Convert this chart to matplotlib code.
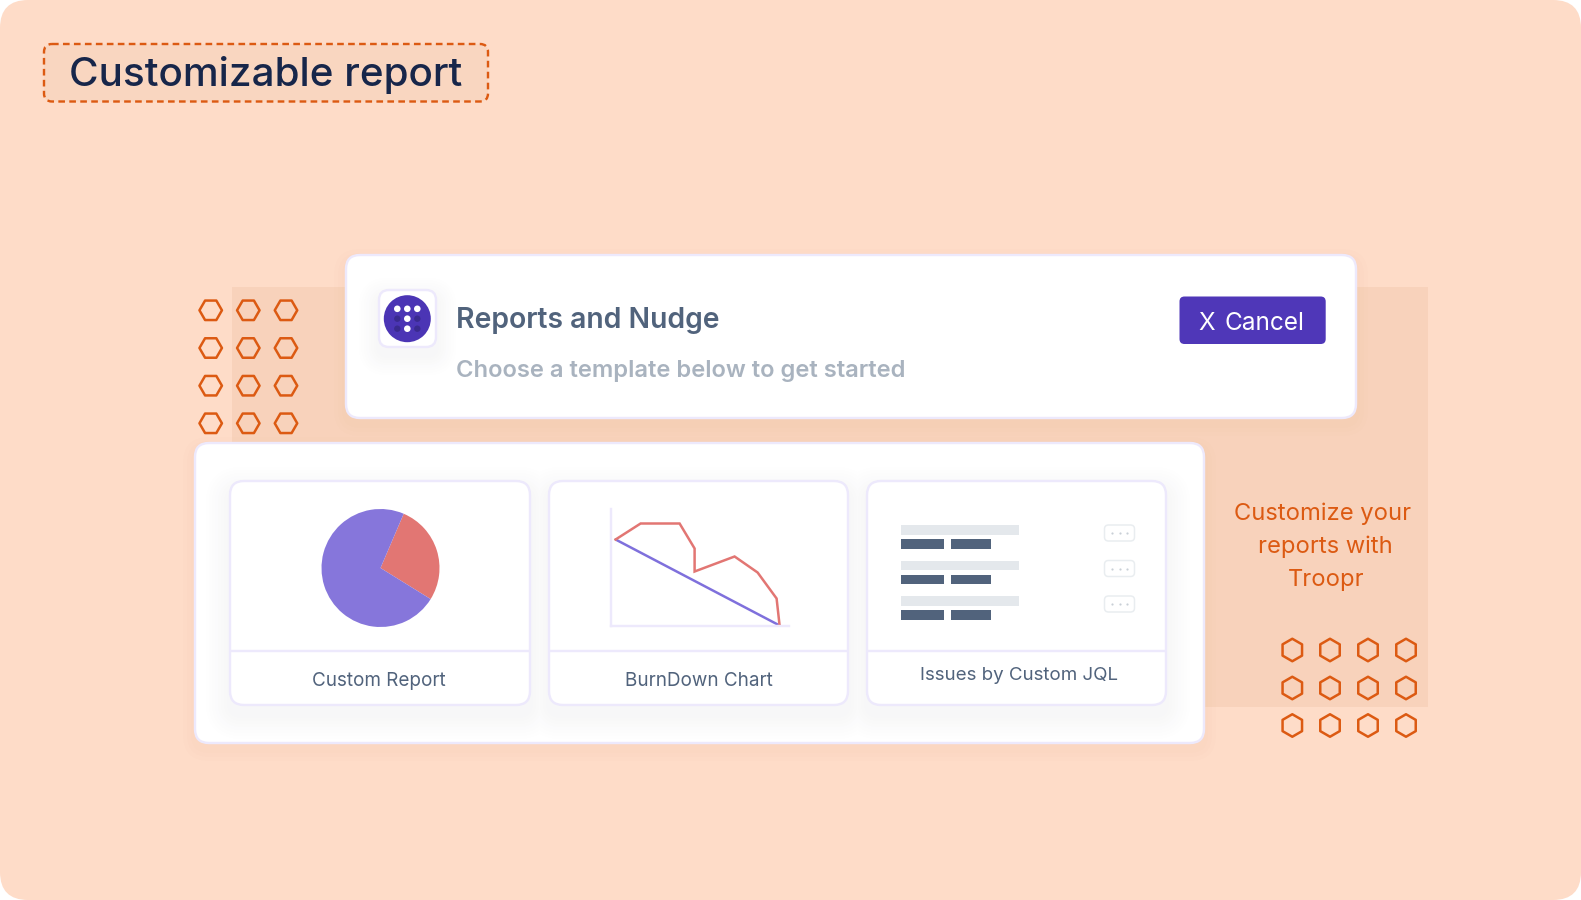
import matplotlib
matplotlib.use('Agg')
import matplotlib.pyplot as plt
from matplotlib.patches import FancyBboxPatch, Rectangle, Circle

W, H = 1581, 900

# colours
PEACH = '#FEDCC8'
PEACH_DARK = '#F8D2BB'
ORANGE = '#DC5A12'
LAVENDER = '#EDE9FC'
PURPLE = '#4F37B8'
PIE_BLUE = '#8676DB'
PIE_RED = '#E27673'
SLATE = '#51637C'
NAVY = '#17264A'

# pie
pie_labels = ['Red', 'Blue']
pie_values = [27.4, 72.6]

# burndown, in chart units
burn_x = [5, 30, 69, 84, 84, 124, 147, 166, 169]
burn_y = [86, 102, 102, 77, 54, 69, 53, 27, 0]
ideal_x = [5, 169]
ideal_y = [86, 0]

# hexagon grids
hex_left_x = [210.7, 248.3, 286]
hex_left_y = [310.3, 348, 385.7, 423.3]
hex_right_x = [1292.3, 1330, 1368, 1406]
hex_right_y = [650, 688, 725.5]

# list rows of the third card
row_tops = [525, 560.5, 596]
card_labels = ['Custom Report', 'BurnDown Chart', 'Issues by Custom JQL']
label_x = [379, 699, 1019]
label_y = [681, 681, 676]
card_x = [(230, 530), (549, 848), (867, 1166)]

# shadow steps on white, outer to inner
shadow_ramp = ['#FEFEFE', '#FDFDFD', '#FCFCFC', '#FBFBFC', '#FAFAFA', '#F9F9F9', '#F8F8F8', '#F7F7F8']


def px(v):
    return v * 0.72


def rbox(ax, x0, y0, x1, y1, r, **kw):
    p = FancyBboxPatch((x0, y0), x1 - x0, y1 - y0,
                       boxstyle='round,pad=0,rounding_size=%g' % r, **kw)
    ax.add_patch(p)
    return p


def soft_shadow(ax, boxes, r, dy=10, spread=24):
    # opaque steps so that the faint greys do not get lost in rounding,
    # one step over all boxes at a time so neighbours do not cut each other
    n = len(shadow_ramp)
    for k, col in enumerate(shadow_ramp):
        i = spread * (n - k) / n
        for x0, y0, x1, y1 in boxes:
            rbox(ax, x0 - i, y0 - i + dy, x1 + i, y1 + i + dy, r + i, fc=col, ec='none')


def peach_shadow(ax, x0, y0, x1, y1, r, dy=6):
    for i in [12, 8, 4]:
        rbox(ax, x0 - i, y0 - i + dy, x1 + i, y1 + i + dy, r + i,
             fc='#a05a30', ec='none', alpha=0.008)


def card(ax, x0, y0, x1, y1, r, lw=2.4):
    rbox(ax, x0, y0, x1, y1, r, fc='white', ec=LAVENDER, lw=px(lw))


fig = plt.figure(figsize=(W / 100, H / 100), dpi=100, facecolor='white')
ax = fig.add_axes([0, 0, 1, 1])
ax.set_xlim(0, W)
ax.set_ylim(H, 0)
ax.axis('off')

# background
rbox(ax, 0, 0, W, H, 28, fc=PEACH, ec='none')
ax.add_patch(Rectangle((232, 287), 1428 - 232, 707 - 287, fc=PEACH_DARK, ec='none'))

# heading
rbox(ax, 44, 44, 488, 101.5, 8, fc='#F9D6C0', ec=ORANGE, lw=px(2.4),
     linestyle=(0, (2.77, 1.8)))
ax.text(265.5, 74.5, 'Customizable report', fontsize=29.1, color=NAVY,
        family='Inter', weight='medium', ha='center', va='center')

# hexagons
for xs, ys, m in [(hex_left_x, hex_left_y, 'H'), (hex_right_x, hex_right_y, 'h')]:
    gx = [x for y in ys for x in xs]
    gy = [y for y in ys for x in xs]
    ax.scatter(gx, gy, s=px(22.5) ** 2, marker=m, facecolors='none',
               edgecolors=ORANGE, linewidths=px(2.5), zorder=5)

# top card
peach_shadow(ax, 346, 255, 1356, 418, 14)
card(ax, 346, 255, 1356, 418, 14)

# icon
soft_shadow(ax, [(379, 290, 436, 347)], 10, dy=8, spread=20)
rbox(ax, 379, 290, 436, 347, 10, fc='white', ec=LAVENDER, lw=px(2.4))
ax.add_patch(Circle((407.3, 318.7), 23.5, fc='#4B35B5', ec='none'))
for cx, cy in [(397.3, 318.7), (417.3, 318.7), (397.3, 328.7), (417.3, 328.7)]:
    ax.add_patch(Circle((cx, cy), 3.2, fc='#3A2A8F', ec='none'))
for cx, cy in [(397.3, 308.8), (407.3, 308.8), (417.3, 308.8), (407.3, 318.7), (407.3, 328.7)]:
    ax.add_patch(Circle((cx, cy), 3.3, fc='white', ec='none'))

ax.text(456, 320, 'Reports and Nudge', fontsize=20.4, color=SLATE, family='Inter',
        weight='semibold', ha='left', va='center')
ax.text(456, 370.5, 'Choose a template below to get started', fontsize=17.1, color='#A9B3BF',
        family='Inter', weight='semibold', ha='left', va='center')

# cancel button
rbox(ax, 1179.5, 296.5, 1325.7, 344, 5, fc=PURPLE, ec='none')
ax.text(1198, 323, 'X', fontsize=17.5, color='white', family='Inter', ha='left', va='center')
ax.text(1304.5, 323, 'Cancel', fontsize=17.5, color='white', family='Inter', ha='right', va='center')

# bottom card
peach_shadow(ax, 195, 443, 1204, 743, 14)
card(ax, 195, 443, 1204, 743, 14)

# inner cards, shadows first so they stay behind all three
soft_shadow(ax, [(x0, 481, x1, 705) for x0, x1 in card_x], 14, dy=10, spread=24)
for (x0, x1), lab, lx, ly in zip(card_x, card_labels, label_x, label_y):
    card(ax, x0, 481, x1, 705, 14)
    ax.plot([x0, x1], [651, 651], color=LAVENDER, lw=px(2.4), solid_capstyle='butt')
    size = 13.5 if lab.startswith('Issues') else 13.6
    ax.text(lx, ly, lab, fontsize=size, color=SLATE, family='Inter', ha='center', va='center')

# list rows
for t in row_tops:
    ax.add_patch(Rectangle((901, t), 118, 9.5, fc='#E4E8EC', ec='none'))
    ax.add_patch(Rectangle((901, t + 14), 43, 9.5, fc='#51637C', ec='none'))
    ax.add_patch(Rectangle((951, t + 14), 40, 9.5, fc='#51637C', ec='none'))
    rbox(ax, 1104.5, t, 1134.5, t + 16, 4, fc='white', ec='#E9EDF0', lw=px(1.5))
    ax.scatter([1112, 1119.5, 1127], [t + 8] * 3, s=2.5, color='#C9CFD6', linewidths=0)

# text on the right
for txt, tx, ty in [('Customize your', 1322.5, 514), ('reports with', 1325, 547), ('Troopr', 1326, 580)]:
    ax.text(tx, ty, txt, fontsize=17.1, color=ORANGE, family='Inter', ha='center', va='center')

# pie
cx, cy, r = 380.5, 568, 59
pax = fig.add_axes([(cx - r) / W, 1 - (cy + r) / H, 2 * r / W, 2 * r / H])
pax.pie(pie_values, colors=[PIE_RED, PIE_BLUE], startangle=-31.8, counterclock=True, radius=1)
pax.set_xlim(-1, 1)
pax.set_ylim(-1, 1)

# burndown
bx0, bx1, by0, by1 = 610.6, 788.6, 508.5, 625.5
bax = fig.add_axes([bx0 / W, 1 - by1 / H, (bx1 - bx0) / W, (by1 - by0) / H])
bax.patch.set_alpha(0)
bax.plot(ideal_x, ideal_y, color='#7F70DC', lw=px(2.5), solid_capstyle='round', clip_on=False)
bax.plot(burn_x, burn_y, color=PIE_RED, lw=px(2.5), solid_joinstyle='miter', clip_on=False)
bax.set_xlim(0, bx1 - bx0)
bax.set_ylim(0, by1 - by0)
bax.set_xticks([])
bax.set_yticks([])
for s in ['top', 'right']:
    bax.spines[s].set_visible(False)
for s in ['left', 'bottom']:
    bax.spines[s].set_color(LAVENDER)
    bax.spines[s].set_linewidth(px(2.4))

fig.savefig('out.png', dpi=100, facecolor='white')
